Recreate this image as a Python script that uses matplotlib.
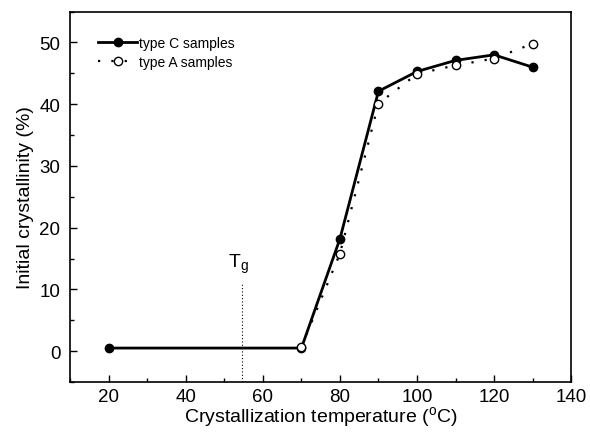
import matplotlib
matplotlib.use("Agg")
import matplotlib.pyplot as plt
from matplotlib.ticker import MultipleLocator

plt.rcParams['font.family'] = ['Liberation Sans', 'DejaVu Sans']
plt.rcParams['mathtext.fontset'] = 'custom'
plt.rcParams['mathtext.rm'] = 'Liberation Sans'

temp_c = [20, 70, 80, 90, 100, 110, 120, 130]
cryst_c = [0.5, 0.5, 18.2, 42.1, 45.3, 47.1, 48.0, 46.0]
temp_a = [70, 80, 90, 100, 110, 120, 130]
cryst_a = [0.7, 15.8, 40.1, 44.9, 46.3, 47.4, 49.8]
tg_x = 54.5
tg_top = 11.2

fig = plt.figure(figsize=(5.9, 4.35), dpi=100)
ax = fig.add_axes([0.119, 0.1195, 0.849, 0.8515])

ax.plot(temp_c, cryst_c, '-', color='black', lw=2.0, marker='o', ms=6,
        mfc='black', mec='black', label='type C samples', zorder=3)
ax.plot(temp_a, cryst_a, linestyle=(0, (1, 5)), color='black', lw=1.6,
        marker='o', ms=6, mfc='white', mec='black', mew=1.0,
        label='type A samples', zorder=4)

ax.plot([tg_x, tg_x], [-5, tg_top], linestyle=(0, (1, 2)), color='black', lw=0.8)
ax.text(tg_x - 0.8, tg_top + 1.2, r'T$_\mathrm{g}$', fontsize=14, ha='center', va='bottom')

ax.set_xlim(10, 140)
ax.set_ylim(-5, 55)
ax.xaxis.set_major_locator(MultipleLocator(20))
ax.xaxis.set_minor_locator(MultipleLocator(10))
ax.yaxis.set_major_locator(MultipleLocator(10))
ax.yaxis.set_minor_locator(MultipleLocator(5))
ax.tick_params(which='both', direction='in', labelsize=13.5, width=1.0)
ax.tick_params(which='major', length=5)
ax.tick_params(axis='x', which='major', pad=4)
ax.tick_params(axis='y', which='major', pad=7)
ax.tick_params(which='minor', length=3)
for s in ax.spines.values():
    s.set_linewidth(1.2)

ax.set_xlabel(r'Crystallization temperature ($^\mathrm{o}$C)', fontsize=14, labelpad=0)
ax.set_ylabel('Initial crystallinity (%)', fontsize=14, labelpad=4)

ax.legend(loc='upper left', bbox_to_anchor=(0.045, 0.95), frameon=False,
          fontsize=10, handlelength=2.8, handletextpad=0.15, labelspacing=0.35,
          borderaxespad=0)

fig.savefig('out.png', dpi=100)
